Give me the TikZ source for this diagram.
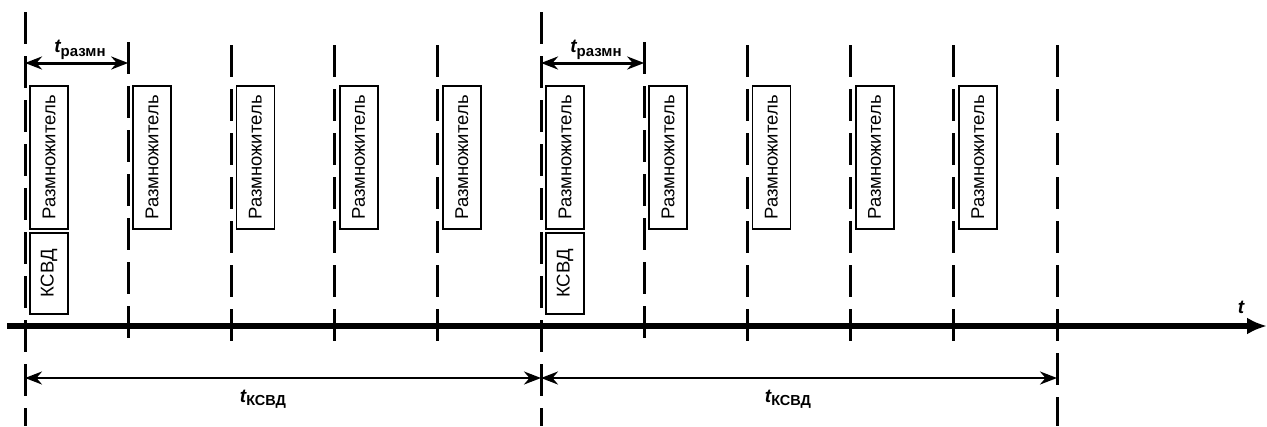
\documentclass[tikz,border=0pt]{standalone}
\usepackage{fontspec}
\setmainfont{Liberation Sans}
\usetikzlibrary{arrows.meta,positioning}

\tikzset{
	mark line/.style={line width=3pt, dash pattern=on 32pt off 12pt},
	razm box/.style={draw, line width=1.8pt, rotate=90, minimum height=38pt, inner sep=0pt, font=\fontsize{18.5}{20}\selectfont},
	span arrow/.style={line width=3pt, {Stealth[length=17pt,width=13pt]}-{Stealth[length=17pt,width=13pt]}},
	time axis/.style={line width=5.5pt, -{Latex[length=20pt,width=17pt]}},
}
\newcommand{\tlabel}[2]{{\fontsize{19}{19}\selectfont\bfseries\itshape t}\raisebox{-#2}{\fontsize{15}{15}\selectfont\bfseries #1}}

\begin{document}
\begin{tikzpicture}[x=1pt,y=-1pt]
	\useasboundingbox (0,0) rectangle (1267,426);

	% vertical marks
	\draw[mark line] (25,12) -- (25,426);
	\draw[mark line] (128.2,42) -- (128.2,343);
	\draw[mark line] (231.4,45) -- (231.4,343);
	\draw[mark line] (334.6,45) -- (334.6,343);
	\draw[mark line] (437.8,45) -- (437.8,343);
	\draw[mark line] (541,12) -- (541,426);
	\draw[mark line] (644.2,42) -- (644.2,343);
	\draw[mark line] (747.4,45) -- (747.4,343);
	\draw[mark line] (850.6,45) -- (850.6,343);
	\draw[mark line] (953.8,45) -- (953.8,343);
	\draw[mark line] (1057,45) -- (1057,426);
	%
	\node[razm box, minimum width=143pt] (razm0) at (49,157.5) {Размножитель};
	\node[razm box, minimum width=81pt] (ksvd0) at (49,273.5) {КСВД};
	\node[razm box, minimum width=143pt] (razm1) at (152.2,157.5) {Размножитель};
	\node[razm box, minimum width=143pt] (razm2) at (255.4,157.5) {Размножитель};
	\node[razm box, minimum width=143pt] (razm3) at (358.6,157.5) {Размножитель};
	\node[razm box, minimum width=143pt] (razm4) at (461.8,157.5) {Размножитель};
	\node[razm box, minimum width=143pt] (razm5) at (565,157.5) {Размножитель};
	\node[razm box, minimum width=81pt] (ksvd5) at (565,273.5) {КСВД};
	\node[razm box, minimum width=143pt] (razm6) at (668.2,157.5) {Размножитель};
	\node[razm box, minimum width=143pt] (razm7) at (771.4,157.5) {Размножитель};
	\node[razm box, minimum width=143pt] (razm8) at (874.6,157.5) {Размножитель};
	\node[razm box, minimum width=143pt] (razm9) at (977.8,157.5) {Размножитель};
	%
	\coordinate (a0) at (25,63);
	\coordinate (a1) at (128.2,63);
	\coordinate (a5) at (541,63);
	\coordinate (a6) at (644.2,63);
	\draw[span arrow] (a0) -- (a1);
	\draw[span arrow] (a5) -- (a6);
	\node[anchor=base] (trazm0) at (80,52) {\tlabel{размн}{4pt}};
	\node[anchor=base] (trazm5) at (596,52) {\tlabel{размн}{4pt}};
	%
	\coordinate (ax0) at (7,326);
	\coordinate (ax1) at (1267,326);
	\draw[time axis] (ax0) -- (ax1);
	\node[anchor=base] (tax) at (1241,313) {\fontsize{19}{19}\selectfont\bfseries\itshape t};
	%
	\coordinate (b0) at (25,378);
	\coordinate (b5) at (541,378);
	\coordinate (b10) at (1057,378);
	\draw[span arrow, line width=2.5pt] (b0) -- (b5);
	\draw[span arrow, line width=2.5pt] (b5) -- (b10);
	\node[anchor=base] (tksvd0) at (263,402) {\tlabel{\fontsize{14.5}{14.5}\selectfont КСВД}{3pt}};
	\node[anchor=base] (tksvd5) at (788,402) {\tlabel{\fontsize{14.5}{14.5}\selectfont КСВД}{3pt}};
\end{tikzpicture}
\end{document}
